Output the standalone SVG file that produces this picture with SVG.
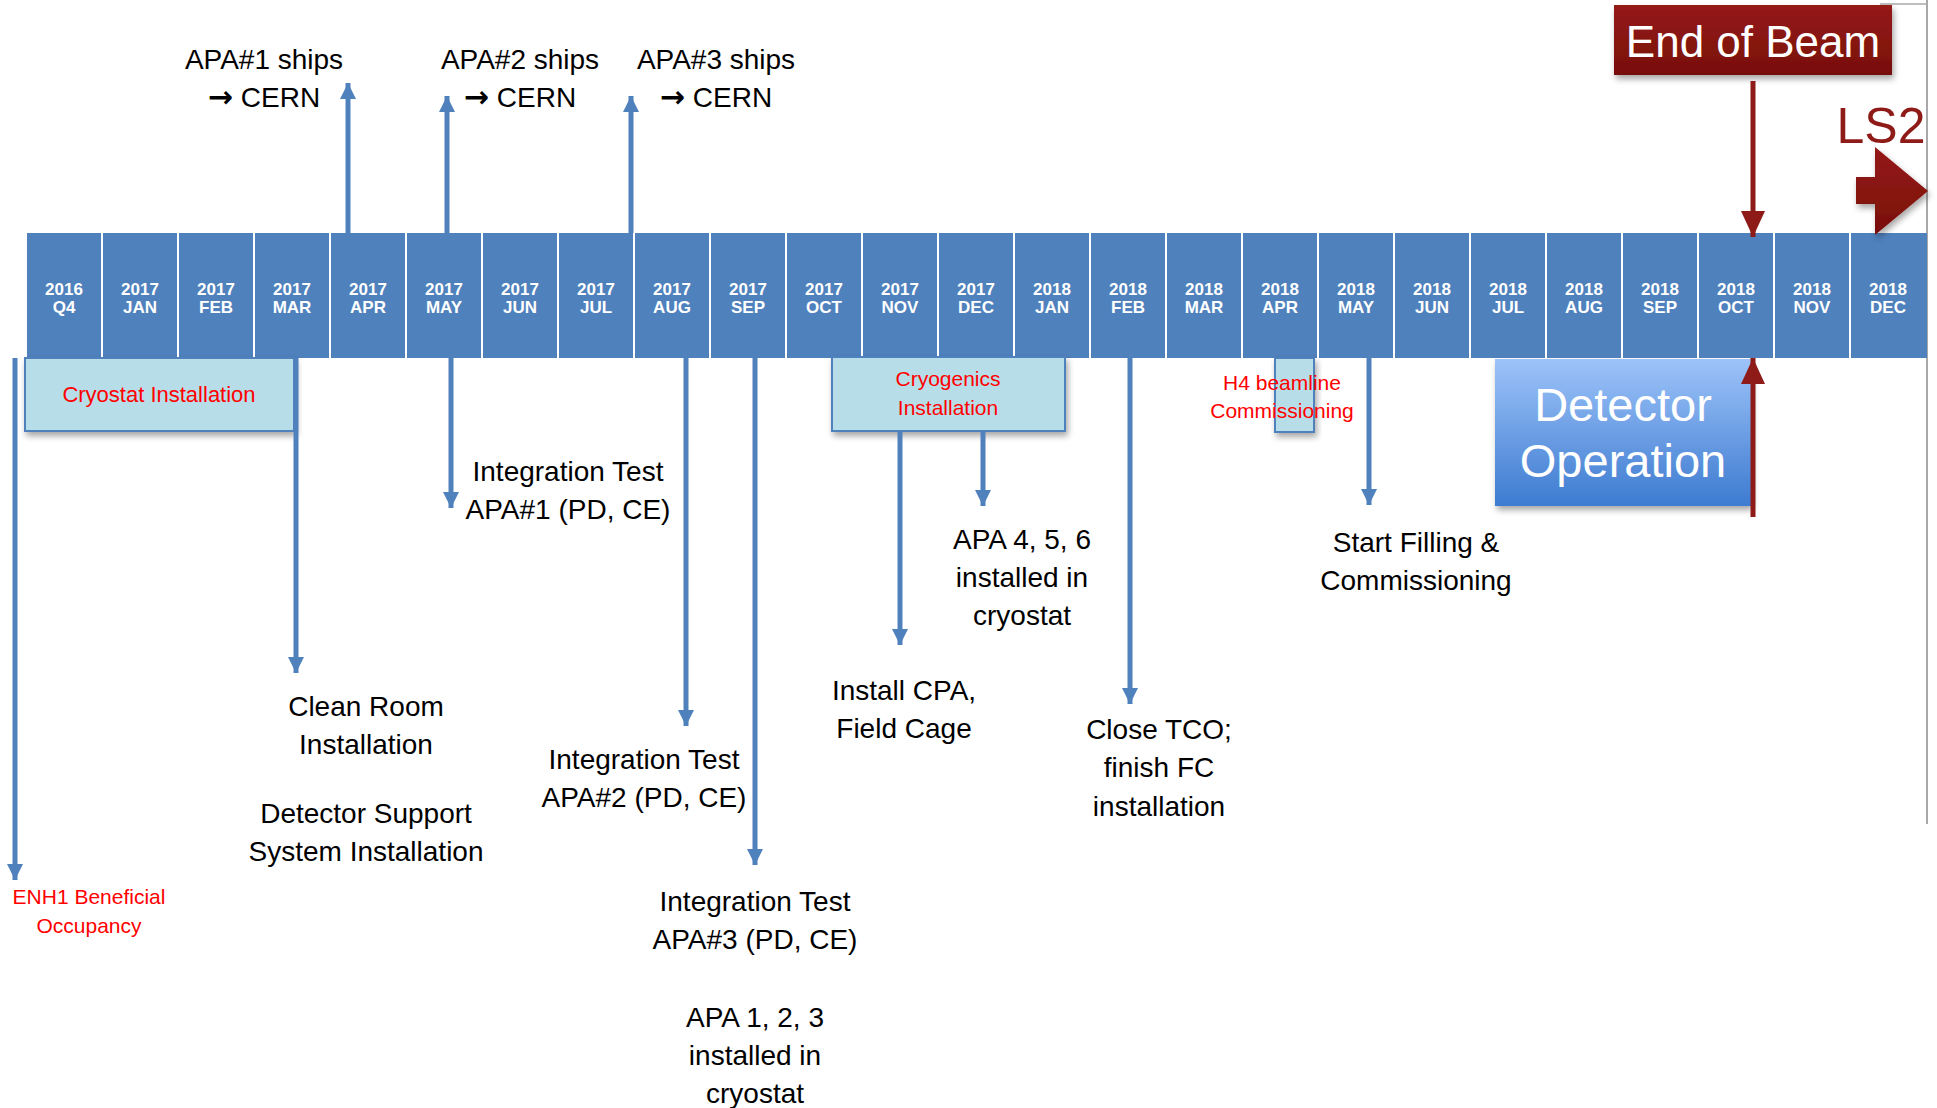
<svg xmlns="http://www.w3.org/2000/svg" width="1937" height="1108" viewBox="0 0 1937 1108">
<defs>
<style>
.cell{fill:#4F81BD;}
.ct{font-family:"Liberation Sans",Arial,sans-serif;font-weight:bold;font-size:17px;fill:#fff;text-anchor:middle;}
.lbl{font-family:"Liberation Sans",Arial,sans-serif;font-size:28px;fill:#000;text-anchor:middle;}
.arw{font-family:"DejaVu Sans",sans-serif;font-weight:bold;font-size:30px;}
.red{font-family:"Liberation Sans",Arial,sans-serif;font-size:21px;fill:#FF0000;text-anchor:middle;}
.box{fill:#B7DEE8;stroke:#4F81BD;stroke-width:2;}
.ba{stroke:#4F81BD;stroke-width:5;fill:none;}
.ra{stroke:#8E1B17;stroke-width:5;fill:none;}
</style>
<marker id="bh" markerUnits="userSpaceOnUse" markerWidth="18" markerHeight="18" refX="16" refY="8" orient="auto">
<path d="M0,0 L16,8 L0,16 Z" fill="#4F81BD"/>
</marker>
<marker id="rh" markerUnits="userSpaceOnUse" markerWidth="30" markerHeight="30" refX="26" refY="12" orient="auto">
<path d="M0,0 L26,12 L0,24 Z" fill="#8E1B17"/>
</marker>
<filter id="sh" x="-10%" y="-10%" width="130%" height="140%">
<feDropShadow dx="2" dy="4" stdDeviation="3" flood-color="#000" flood-opacity="0.35"/>
</filter>
<linearGradient id="gdo" x1="0" y1="0" x2="0" y2="1">
<stop offset="0" stop-color="#9DC3F9"/>
<stop offset="1" stop-color="#3D7BD0"/>
</linearGradient>
<linearGradient id="geb" x1="0" y1="0" x2="0" y2="1">
<stop offset="0" stop-color="#961A17"/>
<stop offset="1" stop-color="#780F0B"/>
</linearGradient>
</defs>
<rect width="1937" height="1108" fill="#fff"/>
<!-- page edges -->
<line x1="1927" y1="0" x2="1927" y2="824" stroke="#A8A8A8" stroke-width="2"/>
<line x1="1880" y1="4" x2="1927" y2="4" stroke="#A8A8A8" stroke-width="1.5"/>

<g id="timeline">
<rect class="cell" x="27" y="233" width="74" height="125"/><text class="ct" x="64" y="295">2016</text><text class="ct" x="64" y="313">Q4</text>
<rect class="cell" x="103" y="233" width="74" height="125"/><text class="ct" x="140" y="295">2017</text><text class="ct" x="140" y="313">JAN</text>
<rect class="cell" x="179" y="233" width="74" height="125"/><text class="ct" x="216" y="295">2017</text><text class="ct" x="216" y="313">FEB</text>
<rect class="cell" x="255" y="233" width="74" height="125"/><text class="ct" x="292" y="295">2017</text><text class="ct" x="292" y="313">MAR</text>
<rect class="cell" x="331" y="233" width="74" height="125"/><text class="ct" x="368" y="295">2017</text><text class="ct" x="368" y="313">APR</text>
<rect class="cell" x="407" y="233" width="74" height="125"/><text class="ct" x="444" y="295">2017</text><text class="ct" x="444" y="313">MAY</text>
<rect class="cell" x="483" y="233" width="74" height="125"/><text class="ct" x="520" y="295">2017</text><text class="ct" x="520" y="313">JUN</text>
<rect class="cell" x="559" y="233" width="74" height="125"/><text class="ct" x="596" y="295">2017</text><text class="ct" x="596" y="313">JUL</text>
<rect class="cell" x="635" y="233" width="74" height="125"/><text class="ct" x="672" y="295">2017</text><text class="ct" x="672" y="313">AUG</text>
<rect class="cell" x="711" y="233" width="74" height="125"/><text class="ct" x="748" y="295">2017</text><text class="ct" x="748" y="313">SEP</text>
<rect class="cell" x="787" y="233" width="74" height="125"/><text class="ct" x="824" y="295">2017</text><text class="ct" x="824" y="313">OCT</text>
<rect class="cell" x="863" y="233" width="74" height="125"/><text class="ct" x="900" y="295">2017</text><text class="ct" x="900" y="313">NOV</text>
<rect class="cell" x="939" y="233" width="74" height="125"/><text class="ct" x="976" y="295">2017</text><text class="ct" x="976" y="313">DEC</text>
<rect class="cell" x="1015" y="233" width="74" height="125"/><text class="ct" x="1052" y="295">2018</text><text class="ct" x="1052" y="313">JAN</text>
<rect class="cell" x="1091" y="233" width="74" height="125"/><text class="ct" x="1128" y="295">2018</text><text class="ct" x="1128" y="313">FEB</text>
<rect class="cell" x="1167" y="233" width="74" height="125"/><text class="ct" x="1204" y="295">2018</text><text class="ct" x="1204" y="313">MAR</text>
<rect class="cell" x="1243" y="233" width="74" height="125"/><text class="ct" x="1280" y="295">2018</text><text class="ct" x="1280" y="313">APR</text>
<rect class="cell" x="1319" y="233" width="74" height="125"/><text class="ct" x="1356" y="295">2018</text><text class="ct" x="1356" y="313">MAY</text>
<rect class="cell" x="1395" y="233" width="74" height="125"/><text class="ct" x="1432" y="295">2018</text><text class="ct" x="1432" y="313">JUN</text>
<rect class="cell" x="1471" y="233" width="74" height="125"/><text class="ct" x="1508" y="295">2018</text><text class="ct" x="1508" y="313">JUL</text>
<rect class="cell" x="1547" y="233" width="74" height="125"/><text class="ct" x="1584" y="295">2018</text><text class="ct" x="1584" y="313">AUG</text>
<rect class="cell" x="1623" y="233" width="74" height="125"/><text class="ct" x="1660" y="295">2018</text><text class="ct" x="1660" y="313">SEP</text>
<rect class="cell" x="1699" y="233" width="74" height="125"/><text class="ct" x="1736" y="295">2018</text><text class="ct" x="1736" y="313">OCT</text>
<rect class="cell" x="1775" y="233" width="74" height="125"/><text class="ct" x="1812" y="295">2018</text><text class="ct" x="1812" y="313">NOV</text>
<rect class="cell" x="1851" y="233" width="76" height="125"/><text class="ct" x="1888" y="295">2018</text><text class="ct" x="1888" y="313">DEC</text>
</g>

<g id="cryostat-installation">
<rect class="box" x="25" y="358" width="269" height="73" filter="url(#sh)"/>
<text class="red" x="159" y="402" style="font-size:22px">Cryostat Installation</text>
</g>
<g id="cryogenics-installation">
<rect class="box" x="832" y="357" width="233" height="74" filter="url(#sh)"/>
<text class="red" x="948" y="386">Cryogenics</text>
<text class="red" x="948" y="415">Installation</text>
</g>
<g id="h4-beamline">
<rect class="box" x="1275" y="358" width="39" height="74" filter="url(#sh)"/>
<text class="red" x="1282" y="390">H4 beamline</text>
<text class="red" x="1282" y="418">Commissioning</text>
</g>
<g id="detector-operation">
<rect x="1495" y="359" width="256" height="147" fill="url(#gdo)" filter="url(#sh)"/>
<text x="1623" y="421" style="font-family:'Liberation Sans',Arial,sans-serif;font-size:47px;fill:#fff;text-anchor:middle">Detector</text>
<text x="1623" y="477" style="font-family:'Liberation Sans',Arial,sans-serif;font-size:47px;fill:#fff;text-anchor:middle">Operation</text>
</g>
<g id="end-of-beam">
<rect x="1614" y="5" width="278" height="70" fill="url(#geb)" filter="url(#sh)"/>
<text x="1753" y="57" style="font-family:'Liberation Sans',Arial,sans-serif;font-size:44px;fill:#fff;text-anchor:middle">End of Beam</text>
</g>
<g id="ls2">
<text x="1881" y="143" style="font-family:'Liberation Sans',Arial,sans-serif;font-size:50px;fill:#8E1B17;text-anchor:middle">LS2</text>
<path d="M1856,177 L1875,177 L1875,147 L1928,191 L1875,235 L1875,204 L1856,204 Z" fill="url(#geb)" filter="url(#sh)"/>
</g>

<g id="labels">
<text class="lbl" x="264" y="69">APA#1 ships</text>
<text class="lbl" x="264" y="107"><tspan class="arw">→</tspan> CERN</text>
<text class="lbl" x="520" y="69">APA#2 ships</text>
<text class="lbl" x="520" y="107"><tspan class="arw">→</tspan> CERN</text>
<text class="lbl" x="716" y="69">APA#3 ships</text>
<text class="lbl" x="716" y="107"><tspan class="arw">→</tspan> CERN</text>
<text class="lbl" x="568" y="481">Integration Test</text>
<text class="lbl" x="568" y="519">APA#1 (PD, CE)</text>
<text class="lbl" x="644" y="769">Integration Test</text>
<text class="lbl" x="644" y="807">APA#2 (PD, CE)</text>
<text class="lbl" x="755" y="911">Integration Test</text>
<text class="lbl" x="755" y="949">APA#3 (PD, CE)</text>
<text class="lbl" x="755" y="1027">APA 1, 2, 3</text>
<text class="lbl" x="755" y="1065">installed in</text>
<text class="lbl" x="755" y="1103">cryostat</text>
<text class="lbl" x="366" y="716">Clean Room</text>
<text class="lbl" x="366" y="754">Installation</text>
<text class="lbl" x="366" y="823">Detector Support</text>
<text class="lbl" x="366" y="861">System Installation</text>
<text class="lbl" x="904" y="700">Install CPA,</text>
<text class="lbl" x="904" y="738">Field Cage</text>
<text class="lbl" x="1022" y="549">APA 4, 5, 6</text>
<text class="lbl" x="1022" y="587">installed in</text>
<text class="lbl" x="1022" y="625">cryostat</text>
<text class="lbl" x="1159" y="739">Close TCO;</text>
<text class="lbl" x="1159" y="777">finish FC</text>
<text class="lbl" x="1159" y="816">installation</text>
<text class="lbl" x="1416" y="552">Start Filling &amp;</text>
<text class="lbl" x="1416" y="590">Commissioning</text>
<text class="red" x="89" y="904">ENH1 Beneficial</text>
<text class="red" x="89" y="933">Occupancy</text>
</g>

<g id="connectors">
<line class="ba" x1="348" y1="233" x2="348" y2="83" marker-end="url(#bh)"/>
<line class="ba" x1="447" y1="233" x2="447" y2="96" marker-end="url(#bh)"/>
<line class="ba" x1="631" y1="233" x2="631" y2="96" marker-end="url(#bh)"/>
<line class="ba" x1="15" y1="358" x2="15" y2="880" marker-end="url(#bh)"/>
<line class="ba" x1="296" y1="358" x2="296" y2="673" marker-end="url(#bh)"/>
<line class="ba" x1="451" y1="358" x2="451" y2="508" marker-end="url(#bh)"/>
<line class="ba" x1="686" y1="358" x2="686" y2="726" marker-end="url(#bh)"/>
<line class="ba" x1="755" y1="358" x2="755" y2="865" marker-end="url(#bh)"/>
<line class="ba" x1="900" y1="431" x2="900" y2="645" marker-end="url(#bh)"/>
<line class="ba" x1="983" y1="431" x2="983" y2="506" marker-end="url(#bh)"/>
<line class="ba" x1="1130" y1="358" x2="1130" y2="704" marker-end="url(#bh)"/>
<line class="ba" x1="1369" y1="358" x2="1369" y2="505" marker-end="url(#bh)"/>
<line class="ra" x1="1753" y1="81" x2="1753" y2="237" marker-end="url(#rh)"/>
<line class="ra" x1="1753" y1="517" x2="1753" y2="358" marker-end="url(#rh)"/>
</g>
</svg>
